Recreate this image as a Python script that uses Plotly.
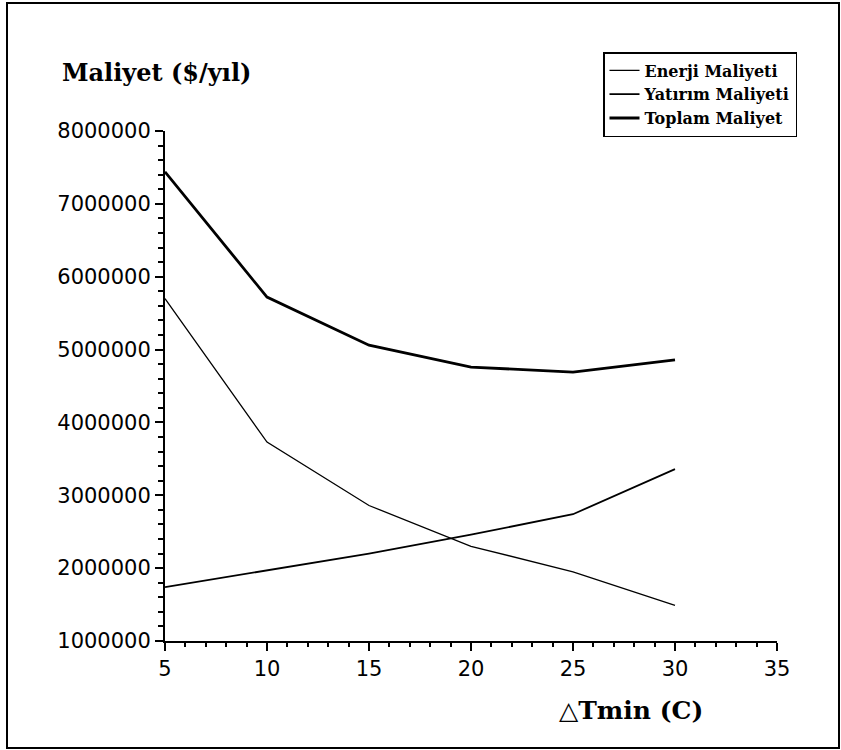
import plotly.graph_objects as go

dTmin = [5, 10, 15, 20, 25, 30]
enerji = [5700000, 3730000, 2860000, 2300000, 1950000, 1490000]
yatirim = [1740000, 1970000, 2200000, 2460000, 2740000, 3360000]
toplam = [7440000, 5720000, 5060000, 4760000, 4690000, 4860000]

names = ["Enerji Maliyeti", "Yatırım Maliyeti", "Toplam Maliyet"]
x_ticks = [5, 10, 15, 20, 25, 30, 35]
y_ticks = [1000000, 2000000, 3000000, 4000000, 5000000, 6000000, 7000000, 8000000]

W, H = 841, 750
L, R, T, B = 165, 64, 131, 109
pw, ph = W - L - R, H - T - B

def px(xpix):
    return (xpix - L) / pw

def py(ypix):
    return (H - B - ypix) / ph

fig = go.Figure()
fig.add_trace(go.Scatter(x=dTmin, y=enerji, mode="lines", name=names[0],
                         line=dict(color="black", width=1.3)))
fig.add_trace(go.Scatter(x=dTmin, y=yatirim, mode="lines", name=names[1],
                         line=dict(color="black", width=1.8)))
fig.add_trace(go.Scatter(x=dTmin, y=toplam, mode="lines", name=names[2],
                         line=dict(color="black", width=2.8)))

tickfont = dict(family="DejaVu Sans", size=21, color="black")
serif_bold = "DejaVu Serif"

fig.update_layout(
    width=W, height=H,
    margin=dict(l=L, r=R, t=T, b=B),
    paper_bgcolor="white", plot_bgcolor="white",
    showlegend=True,
    legend=dict(
        x=px(603), y=py(52), xanchor="left", yanchor="top",
        bordercolor="black", borderwidth=1.5, bgcolor="white",
        font=dict(family=serif_bold, size=16, color="black", weight="bold"),
        itemwidth=30, tracegroupgap=0,
    ),
    xaxis=dict(
        range=[5, 35], tickvals=x_ticks, ticktext=[str(v) for v in x_ticks],
        showline=True, linecolor="black", linewidth=2,
        ticks="outside", ticklen=8, tickwidth=2, tickcolor="black",
        minor=dict(dtick=1, tick0=5, ticks="outside", ticklen=4, tickwidth=2, tickcolor="black"),
        showgrid=False, zeroline=False, tickfont=tickfont,
    ),
    yaxis=dict(
        range=[1000000, 8000000], tickvals=y_ticks, ticktext=[str(v) for v in y_ticks],
        showline=True, linecolor="black", linewidth=2,
        ticks="outside", ticklen=8, tickwidth=2, tickcolor="black",
        minor=dict(dtick=200000, tick0=1000000, ticks="outside", ticklen=5, tickwidth=2, tickcolor="black"),
        showgrid=False, zeroline=False, tickfont=tickfont,
    ),
    shapes=[dict(type="rect", xref="paper", yref="paper",
                 x0=px(7), x1=px(839), y0=py(748), y1=py(3),
                 line=dict(color="black", width=2))],
    annotations=[
        dict(text="Maliyet ($/yıl)", xref="paper", yref="paper",
             x=px(60), y=py(73), xanchor="left", yanchor="middle", showarrow=False,
             font=dict(family=serif_bold, size=24, color="black", weight="bold")),
        dict(text="△Tmin (C)", xref="paper", yref="paper",
             x=px(557), y=py(710), xanchor="left", yanchor="middle", showarrow=False,
             font=dict(family=serif_bold, size=25, color="black", weight="bold")),
    ],
)

fig.write_html("out.html", config={"displayModeBar": False},
               post_script="document.body.style.margin='0px';document.body.style.padding='0px';")
